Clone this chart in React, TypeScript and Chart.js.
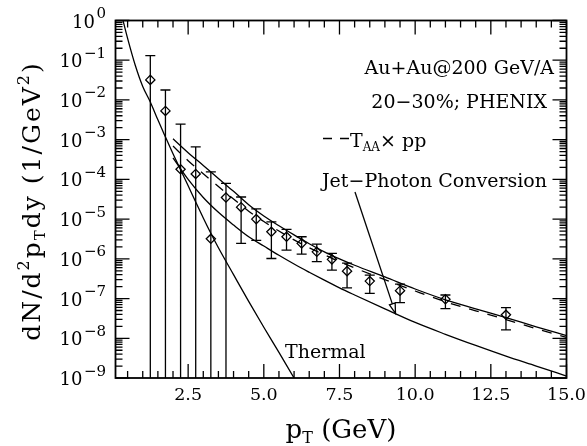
import React, { useEffect, useRef } from 'react';
import { Chart, registerables } from 'chart.js';

Chart.register(...registerables);

const FONT = '"DejaVu Serif", serif';

// PHENIX 20-30% direct photon data
const dataPt = [1.25, 1.75, 2.25, 2.75, 3.25, 3.75, 4.25, 4.75, 5.25, 5.75, 6.25, 6.75, 7.25, 7.75, 8.5, 9.5, 11, 13];
const dataY = [3.2e-2, 5.3e-3, 1.8e-4, 1.37e-4, 3.2e-6, 3.5e-5, 2.0e-5, 1.0e-5, 4.8e-6, 3.6e-6, 2.45e-6, 1.5e-6, 9.7e-7, 4.9e-7, 2.75e-7, 1.58e-7, 9.6e-8, 3.9e-8];
const dataHigh = [0.13, 1.78e-2, 2.45e-3, 6.6e-4, 1.55e-4, 7.9e-5, 3.6e-5, 1.8e-5, 8.5e-6, 5.5e-6, 3.6e-6, 2.35e-6, 1.38e-6, 7.8e-7, 3.9e-7, 2.3e-7, 1.23e-7, 5.9e-8];
// 0 = error bar runs down past the axis
const dataLow = [0, 0, 0, 0, 0, 0, 2.45e-6, 2.9e-6, 1.02e-6, 1.66e-6, 1.32e-6, 8.5e-7, 5.2e-7, 1.86e-7, 1.35e-7, 7.9e-8, 5.6e-8, 1.62e-8];

// Thermal
const thermalPt = [0.3, 0.5, 0.75, 1.0, 1.25, 1.5, 1.75, 2.0, 2.25, 2.5, 2.75, 3.0, 3.25, 3.5, 4.0, 4.5, 5.0, 5.5, 6.0, 6.2];
const thermalY = [1.41, 0.355, 0.076, 0.0219, 8.9e-3, 3.16e-3, 1.17e-3, 4.4e-4, 1.74e-4, 6.9e-5, 2.7e-5, 1.07e-5, 4.4e-6, 1.9e-6, 4.0e-7, 8.5e-8, 1.9e-8, 4.4e-9, 1.0e-9, 5.6e-10];

// Total (upper solid)
const totalPt = [2.0, 2.5, 3.0, 3.5, 4.0, 4.5, 5.0, 5.5, 6.0, 6.5, 7.0, 7.5, 8.0, 9.0, 10.0, 11.0, 12.0, 13.0, 14.0, 15.0];
const totalY = [1.05e-3, 4.7e-4, 2.24e-4, 1.05e-4, 5.0e-5, 2.3e-5, 1.2e-5, 6.8e-6, 4.0e-6, 2.4e-6, 1.5e-6, 1.0e-6, 6.9e-7, 3.5e-7, 1.74e-7, 9.3e-8, 5.5e-8, 3.3e-8, 1.95e-8, 1.17e-8];

// T_AA x pp (dashed)
const ppPt = [2.0, 2.5, 3.0, 3.5, 4.0, 4.5, 5.0, 5.5, 6.0, 6.5, 7.0, 7.5, 8.0, 9.0, 10.0, 11.0, 12.0, 13.0, 14.0, 15.0];
const ppY = [6.9e-4, 2.95e-4, 1.38e-4, 6.6e-5, 3.2e-5, 1.58e-5, 8.7e-6, 5.0e-6, 3.0e-6, 1.9e-6, 1.26e-6, 8.5e-7, 5.9e-7, 3.0e-7, 1.55e-7, 8.3e-8, 4.9e-8, 2.95e-8, 1.74e-8, 1.05e-8];

// Jet-photon conversion (lower solid)
const jpcPt = [2.0, 2.5, 3.0, 3.5, 4.0, 4.5, 5.0, 5.5, 6.0, 6.5, 7.0, 7.5, 8.0, 9.0, 10.0, 11.0, 12.0, 13.0, 14.0, 15.0];
const jpcY = [3.5e-4, 1.0e-4, 3.5e-5, 1.48e-5, 7.1e-6, 3.6e-6, 2.1e-6, 1.23e-6, 7.4e-7, 4.6e-7, 2.9e-7, 1.86e-7, 1.23e-7, 5.5e-8, 2.5e-8, 1.26e-8, 6.6e-9, 3.55e-9, 2.0e-9, 1.12e-9];

const xTickValues = [2.5, 5.0, 7.5, 10.0, 12.5, 15.0];
const xTickLabels = ['2.5', '5.0', '7.5', '10.0', '12.5', '15.0'];
const yTickExponents = [0, -1, -2, -3, -4, -5, -6, -7, -8, -9];

const arrowTip = { x: 9.35, y: 4.25e-8 };

type Seg = { t: string; size: number; dy?: number };

function segWidth(ctx: CanvasRenderingContext2D, segs: Seg[]) {
  let w = 0;
  for (const s of segs) {
    ctx.font = `${s.size}px ${FONT}`;
    w += ctx.measureText(s.t).width;
  }
  return w;
}
function drawSegs(ctx: CanvasRenderingContext2D, segs: Seg[], x0: number, base: number) {
  let x = x0;
  ctx.textAlign = 'left';
  ctx.textBaseline = 'alphabetic';
  for (const s of segs) {
    ctx.font = `${s.size}px ${FONT}`;
    ctx.fillText(s.t, x, base + (s.dy || 0));
    x += ctx.measureText(s.t).width;
  }
}

const framePlugin = {
  id: 'framePlugin',
  afterDraw(chart: any) {
    const { ctx, chartArea: a, scales } = chart;
    const x = scales.x, y = scales.y;
    ctx.save();
    ctx.strokeStyle = '#000';
    ctx.fillStyle = '#000';

    // error bars
    ctx.lineWidth = 1.3;
    ctx.beginPath();
    dataPt.forEach((p, i) => {
      const px = x.getPixelForValue(p);
      const yt = y.getPixelForValue(dataHigh[i]);
      const yb = dataLow[i] > 0 ? y.getPixelForValue(dataLow[i]) : a.bottom;
      ctx.moveTo(px, yt); ctx.lineTo(px, yb);
      ctx.moveTo(px - 5, yt); ctx.lineTo(px + 5, yt);
      if (dataLow[i] > 0) { ctx.moveTo(px - 5, yb); ctx.lineTo(px + 5, yb); }
    });
    ctx.stroke();

    // frame
    ctx.lineWidth = 1.8;
    ctx.strokeRect(a.left, a.top, a.right - a.left, a.bottom - a.top);

    // x ticks
    ctx.lineWidth = 1.3;
    ctx.beginPath();
    for (let k = 1; k <= 30; k++) {
      const v = k * 0.5;
      const major = k % 5 === 0;
      const len = major ? 14 : 7;
      const px = x.getPixelForValue(v);
      ctx.moveTo(px, a.bottom); ctx.lineTo(px, a.bottom - len);
      ctx.moveTo(px, a.top); ctx.lineTo(px, a.top + len);
    }
    // y ticks
    for (let e = -9; e <= 0; e++) {
      for (let m = 1; m <= 9; m++) {
        const v = m * Math.pow(10, e);
        if (v > 1.0001) break;
        const len = m === 1 ? 14 : 7;
        const py = y.getPixelForValue(v);
        ctx.moveTo(a.left, py); ctx.lineTo(a.left + len, py);
        ctx.moveTo(a.right, py); ctx.lineTo(a.right - len, py);
      }
    }
    ctx.stroke();

    // x tick labels
    ctx.font = `17.5px ${FONT}`;
    ctx.textAlign = 'center';
    ctx.textBaseline = 'alphabetic';
    xTickValues.forEach((v, i) => {
      ctx.fillText(xTickLabels[i], x.getPixelForValue(v), a.bottom + 22);
    });

    // y tick labels: 10^e
    yTickExponents.forEach((e) => {
      const py = y.getPixelForValue(Math.pow(10, e));
      const expStr = e === 0 ? '0' : '\u2212' + String(-e);
      ctx.textAlign = 'right';
      ctx.font = `15px ${FONT}`;
      const ew = ctx.measureText(expStr).width;
      ctx.fillText(expStr, 106, py - 2.5);
      ctx.font = `18px ${FONT}`;
      ctx.fillText('10', 106 - ew - 1.5, py + 7);
    });

    // x title
    const xt: Seg[] = [
      { t: 'p', size: 26 },
      { t: 'T', size: 16, dy: 5 },
      { t: ' (GeV)', size: 26 },
    ];
    const xw = segWidth(ctx, xt);
    drawSegs(ctx, xt, 341 - xw / 2, 438);

    // y title rotated
    const yt: Seg[] = [
      { t: 'dN/d', size: 25 },
      { t: '2', size: 16, dy: -11 },
      { t: 'p', size: 25 },
      { t: 'T', size: 15, dy: 5 },
      { t: 'dy (1/GeV', size: 25 },
      { t: '2', size: 16, dy: -11 },
      { t: ')', size: 25 },
    ];
    ctx.save();
    (ctx as any).letterSpacing = '2px';
    const yw = segWidth(ctx, yt);
    ctx.translate(40, 201);
    ctx.rotate(-Math.PI / 2);
    drawSegs(ctx, yt, -yw / 2, 0);
    ctx.restore();
    (ctx as any).letterSpacing = '0px';

    // annotations
    ctx.font = `19px ${FONT}`;
    ctx.textAlign = 'right';
    ctx.fillText('Au+Au@200 GeV/A', 554, 74);
    ctx.fillText('20\u221230%; PHENIX', 547, 108);
    ctx.fillText('Jet\u2212Photon Conversion', 547, 187);
    ctx.textAlign = 'left';
    ctx.fillText('Thermal', 285, 358);

    // legend for dashed
    ctx.lineWidth = 1.3;
    ctx.beginPath();
    ctx.moveTo(323, 138.5); ctx.lineTo(332, 138.5);
    ctx.moveTo(340, 138.5); ctx.lineTo(349, 138.5);
    ctx.stroke();
    drawSegs(ctx, [
      { t: 'T', size: 19 },
      { t: 'AA', size: 12, dy: 4 },
      { t: '\u00d7 pp', size: 19 },
    ], 350, 147);

    // arrow
    const tx = x.getPixelForValue(arrowTip.x);
    const ty = y.getPixelForValue(arrowTip.y);
    const sx = 355, sy = 192;
    const ang = Math.atan2(ty - sy, tx - sx);
    const hl = 10, hw = 3;
    const bx = tx - hl * Math.cos(ang), by = ty - hl * Math.sin(ang);
    ctx.beginPath();
    ctx.moveTo(sx, sy); ctx.lineTo(bx, by);
    ctx.stroke();
    ctx.beginPath();
    ctx.moveTo(tx, ty);
    ctx.lineTo(bx + hw * Math.sin(ang), by - hw * Math.cos(ang));
    ctx.lineTo(bx - hw * Math.sin(ang), by + hw * Math.cos(ang));
    ctx.closePath();
    ctx.stroke();

    ctx.restore();
  },
};

function pts(xs: number[], ys: number[]) {
  return xs.map((v, i) => ({ x: v, y: ys[i] }));
}

export default function App() {
  const ref = useRef<HTMLCanvasElement>(null);
  useEffect(() => {
    const lineBase = {
      type: 'line' as const,
      borderColor: '#000',
      borderWidth: 1.3,
      pointRadius: 0,
      fill: false,
      cubicInterpolationMode: 'monotone' as const,
      showLine: true,
    };
    const chart = new Chart(ref.current!, {
      type: 'scatter',
      data: {
        datasets: [
          { ...lineBase, data: pts(thermalPt, thermalY) },
          { ...lineBase, data: pts(totalPt, totalY) },
          { ...lineBase, data: pts(ppPt, ppY), borderDash: [10, 9] },
          { ...lineBase, data: pts(jpcPt, jpcY) },
          {
            type: 'scatter',
            data: pts(dataPt, dataY),
            pointStyle: 'rectRot',
            pointRadius: 4.6,
            pointBorderWidth: 1.3,
            borderColor: '#000',
            backgroundColor: 'rgba(0,0,0,0)',
          },
        ] as any,
      },
      options: {
        responsive: false,
        animation: false,
        events: [],
        layout: { padding: { left: 115.5, right: 20.5, top: 20.5, bottom: 68 } },
        plugins: { legend: { display: false }, tooltip: { enabled: false } },
        scales: {
          x: { type: 'linear', min: 0.1, max: 15, display: false },
          y: { type: 'logarithmic', min: 1e-9, max: 1, display: false },
        },
      },
      plugins: [framePlugin],
    });
    return () => chart.destroy();
  }, []);
  return (
    <canvas
      ref={ref}
      width={587}
      height={446}
      style={{ position: 'fixed', left: 0, top: 0, width: 587, height: 446, background: '#fff' }}
    />
  );
}
